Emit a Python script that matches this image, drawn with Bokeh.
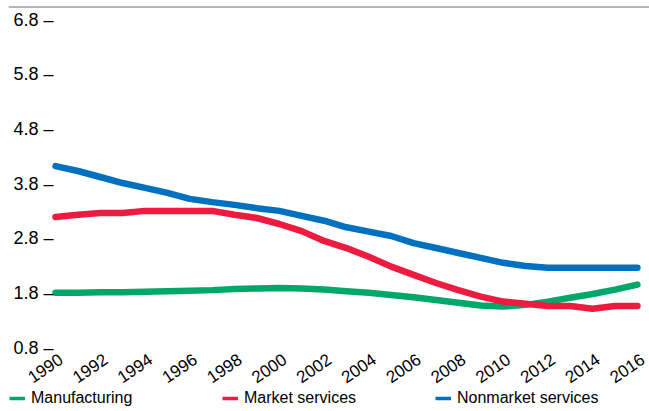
from bokeh.plotting import figure
from bokeh.models import (FixedTicker, CustomJSTickFormatter, Legend, LegendItem,
                          LinearAxis, Range1d, ColumnDataSource, Span)
from bokeh.embed import file_html
from bokeh.resources import INLINE

years = list(range(1990, 2017))
manufacturing = [1.80, 1.80, 1.81, 1.81, 1.82, 1.83, 1.84, 1.85, 1.87, 1.88, 1.89,
                 1.88, 1.86, 1.83, 1.80, 1.76, 1.72, 1.67, 1.62, 1.57, 1.55,
                 1.58, 1.64, 1.71, 1.78, 1.86, 1.95]
market_services = [3.19, 3.23, 3.26, 3.26, 3.30, 3.30, 3.30, 3.30, 3.23, 3.17, 3.06,
                   2.93, 2.75, 2.62, 2.46, 2.28, 2.13, 1.98, 1.85, 1.73, 1.64,
                   1.60, 1.56, 1.56, 1.51, 1.56, 1.56]
nonmarket_services = [4.12, 4.03, 3.92, 3.81, 3.72, 3.63, 3.52, 3.46, 3.41, 3.35, 3.30,
                      3.21, 3.12, 3.00, 2.92, 2.84, 2.71, 2.62, 2.53, 2.44, 2.35,
                      2.29, 2.26, 2.26, 2.26, 2.26, 2.26]
y_ticks = [0.8, 1.8, 2.8, 3.8, 4.8, 5.8, 6.8]
x_ticks = list(range(1990, 2017, 2))
series_names = ["Manufacturing", "Market services", "Nonmarket services"]
colors = ["#00a76b", "#ee1b40", "#0070bf"]

FONT = "Liberation Sans"
LABEL_SHIFT = 0.24  # visual shift of rotated year labels so they sit centred on their year

# the frame extends below 0.8 to make room for the year labels and the legend
p = figure(width=649, height=411, output_backend="svg", toolbar_location=None,
           x_range=Range1d(1987.9, 2016.54), y_range=Range1d(-0.371, 7.04),
           min_border_left=8, min_border_right=0, min_border_top=6, min_border_bottom=0,
           x_axis_location=None, y_axis_location=None)
p.outline_line_color = None
p.grid.visible = False
p.background_fill_color = "white"
p.border_fill_color = "white"

src = ColumnDataSource(dict(year=years, m=manufacturing, ms=market_services, nm=nonmarket_services))
leg_items = []
for col, c, name in zip(["m", "ms", "nm"], colors, series_names):
    # thin copy (hidden under the thick line) supplies the legend's glyph
    thin = p.line("year", col, source=src, line_color=c, line_width=3.5)
    leg_items.append(LegendItem(label=name, renderers=[thin]))
for col, c in zip(["m", "ms", "nm"], colors):
    p.line("year", col, source=src, line_color=c, line_width=6.5,
           line_cap="round", line_join="round")

# top rule
p.add_layout(Span(location=7.04, dimension="width", line_color="#6e6e6e", line_width=2))

# y axis (labels drawn inside the left part of the frame)
yaxis = LinearAxis(ticker=FixedTicker(ticks=y_ticks),
                   formatter=CustomJSTickFormatter(code='return tick.toFixed(1) + " \u2013";'))
yaxis.axis_line_color = None
yaxis.major_tick_line_color = None
yaxis.minor_tick_line_color = None
yaxis.major_tick_out = 0
yaxis.major_tick_in = 0
yaxis.major_label_standoff = -45
yaxis.major_label_text_font = FONT
yaxis.major_label_text_font_size = "18px"
yaxis.major_label_text_color = "black"
p.add_layout(yaxis, "left")

# x axis (labels pulled up into the frame, under the 0.8 line)
xaxis = LinearAxis(ticker=FixedTicker(ticks=[t + LABEL_SHIFT for t in x_ticks]),
                   formatter=CustomJSTickFormatter(
                       code='return (tick - %s).toFixed(0);' % LABEL_SHIFT))
xaxis.axis_line_color = None
xaxis.major_tick_line_color = None
xaxis.minor_tick_line_color = None
xaxis.major_tick_out = 0
xaxis.major_tick_in = 0
xaxis.major_label_standoff = -54
xaxis.major_label_orientation = 0.6
xaxis.major_label_text_font = FONT
xaxis.major_label_text_font_size = "17px"
xaxis.major_label_text_color = "black"
p.add_layout(xaxis, "below")

legend = Legend(items=leg_items, orientation="horizontal", location=(1, 4))
legend.label_text_font = FONT
legend.label_text_font_size = "16px"
legend.label_text_color = "black"
legend.glyph_width = 16
legend.glyph_height = 16
legend.label_standoff = 6
legend.label_width = 191
legend.label_height = 16
legend.spacing = 0
legend.padding = 0
legend.margin = 0
legend.border_line_color = None
legend.background_fill_alpha = 0
p.add_layout(legend)

open("out.html", "w").write(file_html(p, INLINE))
